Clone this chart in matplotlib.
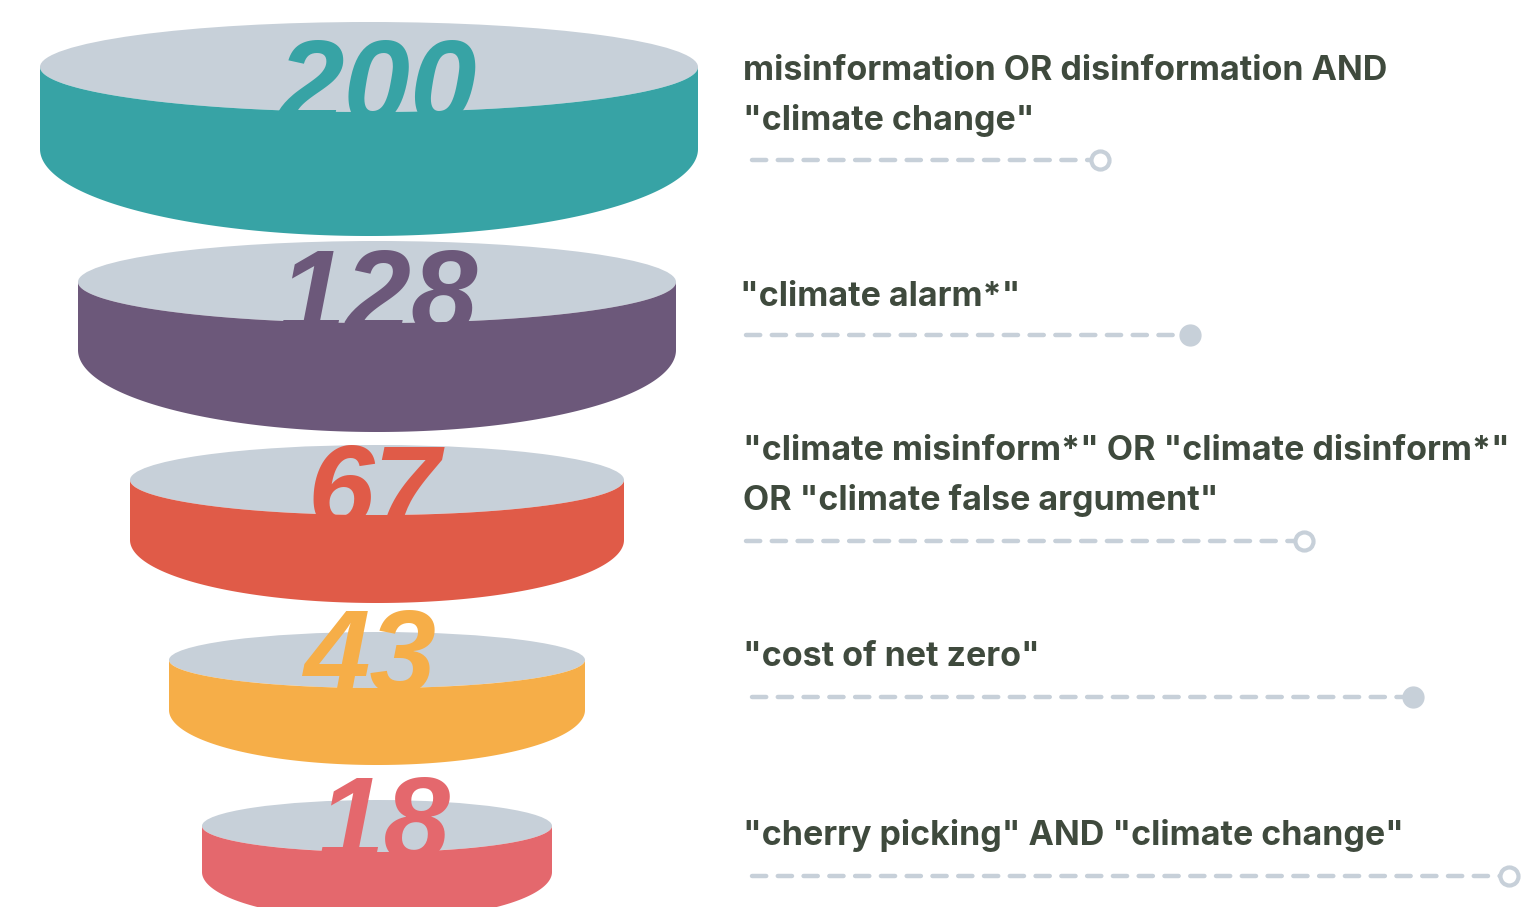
import numpy as np
import matplotlib
matplotlib.use("Agg")
import matplotlib.pyplot as plt
from matplotlib.patches import Ellipse, Polygon

# funnel data
counts = [200, 128, 67, 43, 18]
queries = [
    'misinformation OR disinformation AND\n"climate change"',
    '"climate alarm*"',
    '"climate misinform*" OR "climate disinform*"\nOR "climate false argument"',
    '"cost of net zero"',
    '"cherry picking" AND "climate change"',
]
colors = ["#37A3A5", "#6C587A", "#E05B48", "#F6AE48", "#E4686D"]
top_color = "#C7D0D9"
text_color = "#3F4A3D"

# layout of each disc (pixels): centre x, half width, top-ellipse centre y,
# top half height, side height, bottom curve depth
disc_cx = [369, 377, 377, 377, 377]
disc_a = [329, 299, 247, 208, 175]
disc_y = [67, 282, 480, 660, 826]
disc_bt = [45, 41, 35, 28, 26]
disc_h = [82, 68, 60, 50, 46]
disc_bb = [87, 82, 63, 55, 48]
num_base = [123, 333, 528, 693, 860]
num_x = [378, 378, 374, 370, 384]

# label layout
label_x = [743, 740, 743, 743, 743]
label_y = [96, 297, 476, 657, 835]
line_y = [160, 335, 541, 697, 876]
line_x0 = [752, 746, 746, 752, 752]
line_x1 = [1100, 1190, 1304, 1413, 1509]
hollow = [True, False, True, False, True]

W, H = 1537, 907
fig = plt.figure(figsize=(W / 100, H / 100), dpi=100)
ax = fig.add_axes([0, 0, 1, 1])
ax.set_xlim(0, W)
ax.set_ylim(H, 0)
ax.axis("off")

t = np.linspace(0, np.pi, 200)
for i, n in enumerate(counts):
    cx, a, yc = disc_cx[i], disc_a[i], disc_y[i]
    bt, h, bb = disc_bt[i], disc_h[i], disc_bb[i]
    # top face
    ax.add_patch(Ellipse((cx, yc), 2 * a, 2 * bt, color=top_color, lw=0, zorder=1))
    # number, partly hidden by the side
    ax.text(num_x[i], num_base[i], str(n), ha="center", va="baseline",
            fontsize=86, fontweight="bold", fontstyle="italic",
            family="Liberation Sans", color=colors[i], zorder=2)
    # side: front edge of top face down to bottom curve
    front = np.column_stack([cx - a * np.cos(t), yc + bt * np.sin(t)])
    bottom = np.column_stack([cx + a * np.cos(t), yc + h + bb * np.sin(t)])
    side = np.vstack([front, bottom])
    ax.add_patch(Polygon(side, closed=True, color=colors[i], lw=0, zorder=3))

for i, q in enumerate(queries):
    ax.text(label_x[i], label_y[i], q, ha="left", va="center", fontsize=24.5,
            fontweight="bold", family="Inter", color=text_color,
            linespacing=1.65)
    ax.plot([line_x0[i], line_x1[i] - 8], [line_y[i], line_y[i]],
            color=top_color, lw=3.2, dashes=(3.2, 2.6), dash_capstyle="round",
            solid_capstyle="round")
    if hollow[i]:
        ax.plot(line_x1[i], line_y[i], "o", ms=13, mfc="white",
                mec=top_color, mew=3)
    else:
        ax.plot(line_x1[i], line_y[i], "o", ms=15, color=top_color)

fig.savefig("out.png", dpi=100)
